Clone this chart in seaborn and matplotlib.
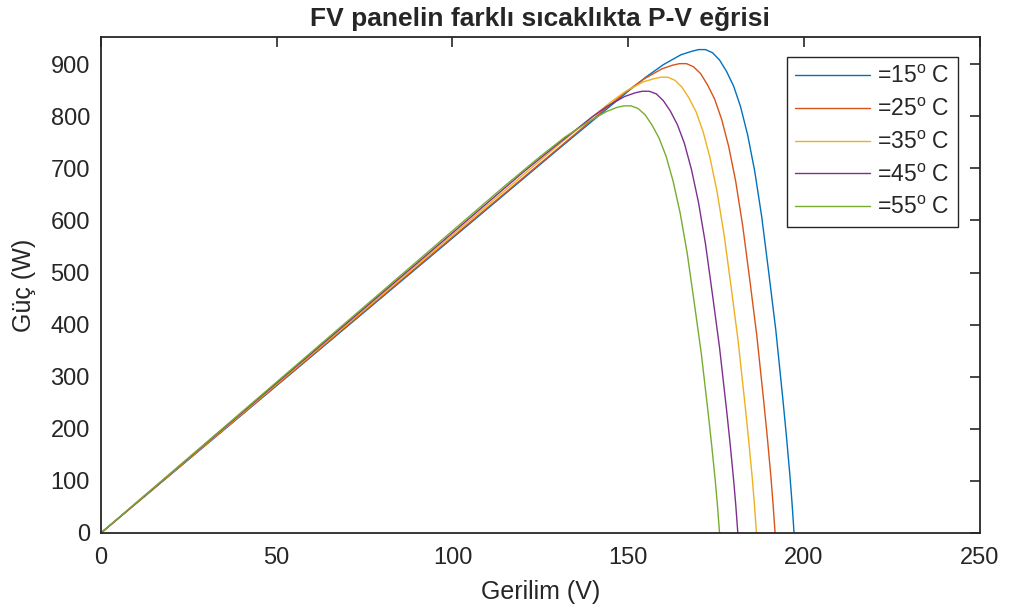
import pandas as pd
import matplotlib
matplotlib.use("Agg")
import matplotlib.pyplot as plt
import seaborn as sns

# --- Veriler ---
v_15 = [0, 50, 100, 130, 150, 155, 160, 165, 168, 170, 172, 174, 176, 178, 180, 182, 184, 186, 188, 190, 192, 194, 195, 196, 196.6, 197.2]
p_15 = [0, 283, 566, 736, 848, 875, 899, 918, 924.5, 928, 928, 922, 908, 886, 858, 818, 764, 695, 607, 500, 390, 258, 188, 112, 60, 0]

v_25 = [0, 50, 100, 130, 145, 150, 154.6, 159.6, 162.6, 164.6, 166.6, 168.6, 170.6, 172.6, 174.6, 176.6, 178.6, 180.6, 182.6, 184.6, 186.6, 188.6, 189.6, 190.6, 191.2, 191.8]
p_25 = [0, 284, 568, 738, 823, 850, 872, 891, 898, 901, 901, 895, 882, 860, 833, 794, 742, 675, 589, 486, 379, 251, 183, 109, 58, 0]

v_35 = [0, 50, 100, 130, 140, 145, 149.3, 154.3, 157.3, 159.3, 161.3, 163.3, 165.3, 167.3, 169.3, 171.3, 173.3, 175.3, 177.3, 179.3, 181.3, 183.3, 184.3, 185.3, 185.9, 186.5]
p_35 = [0, 286, 572, 744, 800, 827, 848, 866, 872, 875, 875, 869, 856, 835, 809, 771, 720, 655, 572, 472, 368, 243, 177, 106, 57, 0]

v_45 = [0, 50, 100, 120, 130, 140, 144, 149, 152, 154, 156, 158, 160, 162, 164, 166, 168, 170, 172, 174, 176, 178, 179, 180, 180.6, 181.2]
p_45 = [0, 288, 576, 692, 747, 800, 819, 838, 845, 848, 848, 843, 830, 810, 784, 748, 698, 635, 555, 457, 356, 236, 172, 102, 55, 0]

v_55 = [0, 50, 100, 115, 125, 132, 138.8, 143.8, 146.8, 148.8, 150.8, 152.8, 154.8, 156.8, 158.8, 160.8, 162.8, 164.8, 166.8, 168.8, 170.8, 172.8, 173.8, 174.8, 175.4, 176]
p_55 = [0, 290, 580, 667, 723, 760, 790, 809, 817, 820, 820, 815, 803, 783, 758, 723, 675, 614, 537, 442, 345, 228, 166, 99, 53, 0]

labels = [r'=15$^{\rm o}$ C', r'=25$^{\rm o}$ C', r'=35$^{\rm o}$ C', r'=45$^{\rm o}$ C', r'=55$^{\rm o}$ C']
colors = ['#0072BD', '#D95319', '#EDB120', '#7E2F8E', '#77AC30']

frames = []
for lab, v, p in zip(labels, [v_15, v_25, v_35, v_45, v_55], [p_15, p_25, p_35, p_45, p_55]):
    frames.append(pd.DataFrame({'V': v, 'P': p, 'T': lab}))
df = pd.concat(frames, ignore_index=True)

# --- Stil ---
sns.set_style("white")
plt.rcParams['font.family'] = ['Liberation Sans', 'DejaVu Sans']
plt.rcParams['mathtext.fontset'] = 'custom'
plt.rcParams['mathtext.rm'] = 'Liberation Sans'
plt.rcParams['xtick.direction'] = 'in'
plt.rcParams['ytick.direction'] = 'in'

fig = plt.figure(figsize=(10.12, 6.08), dpi=100)
ax = fig.add_axes([0.0998, 0.1234, 0.8682, 0.8156])

sns.lineplot(data=df, x='V', y='P', hue='T', palette=colors, estimator=None,
             sort=False, linewidth=1.0, ax=ax)

ax.set_xlim(0, 250)
ax.set_ylim(0, 952)
ax.set_xticks(range(0, 251, 50))
ax.set_yticks(range(0, 901, 100))
ax.tick_params(axis='both', labelsize=17, length=7, width=1.2, colors='#262626',
               top=True, right=True, labelcolor='#262626')
ax.tick_params(axis='x', pad=10)
ax.tick_params(axis='y', pad=8)
for s in ax.spines.values():
    s.set_linewidth(1.3)
    s.set_color('#262626')

ax.set_xlabel("Gerilim (V)", fontsize=18, color='#262626', labelpad=8)
ax.set_ylabel("Güç (W)", fontsize=18, color='#262626', labelpad=10)
ax.set_title("FV panelin farklı sıcaklıkta P-V eğrisi", fontsize=19, fontweight='bold', pad=8)

leg = ax.legend(loc='upper right', bbox_to_anchor=(0.975, 0.96), borderaxespad=0,
                fontsize=16.5, handlelength=3.3, handletextpad=0.3, labelspacing=0.43,
                borderpad=0.35, fancybox=False, framealpha=1, edgecolor='#262626')
leg.get_frame().set_linewidth(1.0)

fig.savefig("out.png", dpi=100)
